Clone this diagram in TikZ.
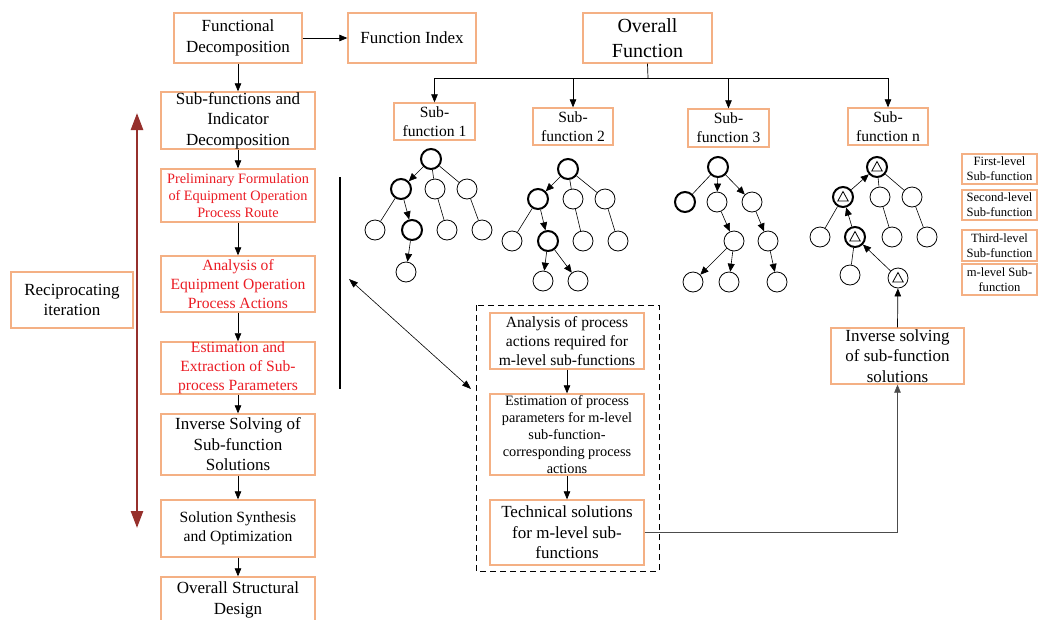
\documentclass[tikz,border=0pt]{standalone}
\usepackage{fontspec}
\setmainfont{Liberation Serif}
\usetikzlibrary{arrows.meta,calc}
\definecolor{boxorange}{RGB}{244,176,132}
\definecolor{redtext}{RGB}{235,28,36}
\definecolor{darkred}{RGB}{150,48,44}
\begin{document}
\begin{tikzpicture}[x=1pt,y=-1pt,
  box/.style={draw=boxorange, line width=1.3pt, align=center, inner sep=0pt, fill=white},
  fA/.style={font=\fontsize{17}{20.5}\selectfont},
  fB/.style={font=\fontsize{15.6}{19}\selectfont},
  fC/.style={font=\fontsize{14.3}{17.2}\selectfont},
  fD/.style={font=\fontsize{12.6}{15}\selectfont},
  fE/.style={font=\fontsize{20}{25}\selectfont},
  rt/.style={text=redtext},
  arr/.style={-{Triangle[length=8pt,width=6.5pt]}, line width=0.7pt},
  cn/.style={circle, draw, minimum size=20pt, inner sep=0pt, line width=0.8pt},
  cnb/.style={cn, line width=2pt},
  ta/.style={-{Triangle[length=8pt,width=7pt]}, line width=0.6pt},
  tl/.style={line width=0.6pt}]
\useasboundingbox (0,0) rectangle (1041,619);
\clip (0,0) rectangle (1041,619);

% left column
\node[box,fA,minimum width=128pt,minimum height=50pt] (fd) at (238,38) {Functional\\Decomposition};
\node[box,fA,minimum width=128pt,minimum height=50pt] (fi) at (412,38) {Function Index};
\node[box,fA,minimum width=154pt,minimum height=57pt] (sfid) at (238,120.5) {Sub-functions and\\Indicator\\Decomposition};
\node[box,fC,rt,minimum width=154pt,minimum height=53pt] (pf) at (238,195.5) {Preliminary Formulation\\of Equipment Operation\\Process Route};
\node[box,fB,rt,minimum width=154pt,minimum height=56pt] (aeo) at (238,284) {Analysis of\\Equipment Operation\\Process Actions};
\node[box,fB,rt,minimum width=154pt,minimum height=52pt] (eex) at (238,368) {Estimation and\\Extraction of Sub-\\process Parameters};
\node[box,fA,minimum width=154pt,minimum height=61pt] (isf) at (238,444.5) {Inverse Solving of\\Sub-function\\Solutions};
\node[box,fB,minimum width=154pt,minimum height=57pt] (ssy) at (238,528.5) {Solution Synthesis\\and Optimization};
\node[box,fA,minimum width=154pt,minimum height=46pt] (osd) at (238,600) {Overall Structural\\Design};
\node[box,fA,minimum width=122pt,minimum height=56pt] (rec) at (72,300) {Reciprocating\\iteration};

\draw[arr] (fd) -- (fi);
\draw[arr] (fd) -- (sfid);
\draw[arr] (sfid) -- (pf);
\draw[arr] (pf) -- (aeo);
\draw[arr] (aeo) -- (eex);
\draw[arr] (eex) -- (isf);
\draw[arr] (isf) -- (ssy);
\draw[arr] (ssy) -- (osd);

% red reciprocating arrow
\coordinate (rtop) at (137,113);
\coordinate (rbot) at (137,528);
\draw[darkred, line width=2.6pt, {Triangle[length=17pt,width=12pt]}-{Triangle[length=17pt,width=12pt]}] (rtop) -- (rbot);

% vertical line and double arrow
\coordinate (vl1) at (340,177);
\coordinate (vl2) at (340,389);
\draw[line width=1.2pt] (vl1) -- (vl2);
\coordinate (da1) at (349,279);
\coordinate (da2) at (471,389);
\draw[line width=0.6pt, {Triangle[length=9pt,width=6.5pt]}-{Triangle[length=9pt,width=6.5pt]}] (da1) -- (da2);

% overall function and sub-functions
\node[box,fE,minimum width=129pt,minimum height=50pt] (of) at (647.5,38) {Overall\\Function};
\node[box,fB,minimum width=81pt,minimum height=37pt] (sf1) at (434.5,121.5) {Sub-\\function 1};
\node[box,fB,minimum width=80pt,minimum height=37pt] (sf2) at (573,126.5) {Sub-\\function 2};
\node[box,fB,minimum width=81pt,minimum height=38pt] (sf3) at (728.5,128) {Sub-\\function 3};
\node[box,fB,minimum width=80pt,minimum height=37pt] (sfn) at (888,126.5) {Sub-\\function n};
\coordinate (bar) at (648,78);
\draw[line width=0.7pt] (of.south) -- (bar);
\draw[line width=0.7pt] (sf1.north |- bar) -- (sfn.north |- bar);
\foreach \s in {sf1,sf2,sf3,sfn} \draw[arr] (\s.north |- bar) -- (\s.north);

% legend
\node[box,fD,minimum width=75pt,minimum height=30pt] (lg1) at (999.5,169) {First-level\\Sub-function};
\node[box,fD,minimum width=75pt,minimum height=30pt] (lg2) at (999.5,205) {Second-level\\Sub-function};
\node[box,fD,minimum width=75pt,minimum height=31pt] (lg3) at (999.5,245.5) {Third-level\\Sub-function};
\node[box,fD,minimum width=75pt,minimum height=31pt] (lg4) at (999.5,279.5) {m-level Sub-\\function};

% tree 1
\node[cnb] (t1r) at (431,159) {};
\node[cnb] (t1a) at (401,189) {};
\node[cn] (t1b) at (435,189) {};
\node[cn] (t1c) at (467,189) {};
\node[cn] (t1d) at (375,230) {};
\node[cnb] (t1e) at (412,230) {};
\node[cn] (t1f) at (447,230) {};
\node[cn] (t1g) at (482,230) {};
\node[cn] (t1h) at (406,272) {};
\draw[ta] (t1r) -- (t1a);
\draw[tl] (t1r) -- (t1b);
\draw[tl] (t1r) -- (t1c);
\draw[tl] (t1a) -- (t1d);
\draw[ta] (t1a) -- (t1e);
\draw[tl] (t1b) -- (t1f);
\draw[tl] (t1c) -- (t1g);
\draw[ta] (t1e) -- (t1h);

% tree 2
\node[cnb] (t2r) at (568,169) {};
\node[cnb] (t2a) at (538,199) {};
\node[cn] (t2b) at (573,199) {};
\node[cn] (t2c) at (605,199) {};
\node[cn] (t2d) at (512,241) {};
\node[cnb] (t2e) at (548,241) {};
\node[cn] (t2f) at (583,241) {};
\node[cn] (t2g) at (618,241) {};
\node[cn] (t2h) at (543,281) {};
\node[cn] (t2i) at (578,281) {};
\draw[ta] (t2r) -- (t2a);
\draw[tl] (t2r) -- (t2b);
\draw[tl] (t2r) -- (t2c);
\draw[tl] (t2a) -- (t2d);
\draw[ta] (t2a) -- (t2e);
\draw[tl] (t2b) -- (t2f);
\draw[tl] (t2c) -- (t2g);
\draw[ta] (t2e) -- (t2h);
\draw[ta] (t2e) -- (t2i);

% tree 3
\node[cnb] (t3r) at (718,167) {};
\node[cnb] (t3a) at (685,202) {};
\node[cn] (t3b) at (717,202) {};
\node[cn] (t3c) at (752,202) {};
\node[cn] (t3d) at (734,241) {};
\node[cn] (t3e) at (768,241) {};
\node[cn] (t3f) at (693,282) {};
\node[cn] (t3g) at (729,282) {};
\node[cn] (t3h) at (777,282) {};
\draw[tl] (t3r) -- (t3a);
\draw[ta] (t3r) -- (t3b);
\draw[ta] (t3r) -- (t3c);
\draw[ta] (t3b) -- (t3d);
\draw[ta] (t3c) -- (t3e);
\draw[ta] (t3d) -- (t3f);
\draw[ta] (t3d) -- (t3g);
\draw[ta] (t3e) -- (t3h);

% tree n
\node[cnb] (tnr) at (877,167) {};
\node[cnb] (tna) at (843,197) {};
\node[cn] (tnb) at (880,197) {};
\node[cn] (tnc) at (912,197) {};
\node[cn] (tnd) at (820,237) {};
\node[cnb] (tne) at (855,237) {};
\node[cn] (tnf) at (892,237) {};
\node[cn] (tng) at (927,237) {};
\node[cn] (tnh) at (850,275) {};
\node[cn] (tni) at (898,278) {};
\draw[ta] (tna) -- (tnr);
\draw[tl] (tnr) -- (tnb);
\draw[tl] (tnr) -- (tnc);
\draw[tl] (tna) -- (tnd);
\draw[ta] (tne) -- (tna);
\draw[tl] (tnb) -- (tnf);
\draw[tl] (tnc) -- (tng);
\draw[tl] (tne) -- (tnh);
\draw[ta] (tni) -- (tne);
\foreach \n in {tnr,tna,tne,tni}
  \draw[line width=0.8pt] ($(\n)+(0,-5.5)$) -- ($(\n)+(5.2,4)$) -- ($(\n)+(-5.2,4)$) -- cycle;

% dashed group
\coordinate (dbA) at (476,305);
\coordinate (dbB) at (659,571);
\draw[line width=1pt, dash pattern=on 6pt off 4pt] (dbA) rectangle (dbB);
\node[box,fB,minimum width=154pt,minimum height=56pt] (ap) at (567,341) {Analysis of process\\actions required for\\m-level sub-functions};
\node[box,fC,minimum width=154pt,minimum height=81pt] (ep) at (567,434.5) {Estimation of process\\parameters for m-level\\sub-function-\\corresponding process\\actions};
\node[box,fA,minimum width=154pt,minimum height=65pt] (ts) at (567,532.5) {Technical solutions\\for m-level sub-\\functions};
\draw[arr] (ap) -- (ep);
\draw[arr] (ep) -- (ts);

\node[box,fA,minimum width=133pt,minimum height=56pt] (invs) at (897.5,356) {Inverse solving\\of sub-function\\solutions};
\draw[arr, draw=black!70] (ts.east) -| (invs.south);
\draw[arr] (invs.north) -- (tni);
\end{tikzpicture}
\end{document}
